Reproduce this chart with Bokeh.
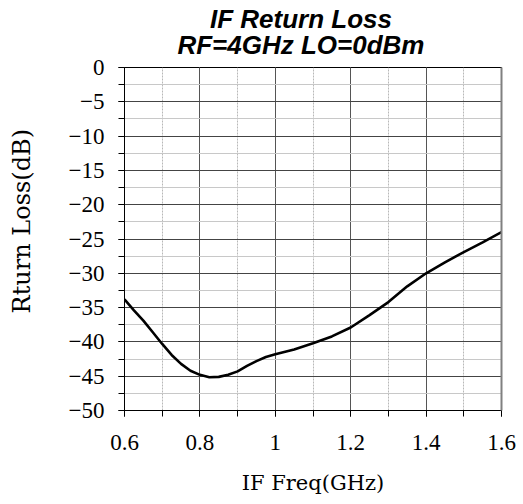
import math

from bokeh.plotting import figure
from bokeh.models import (Range1d, SingleIntervalTicker, FixedTicker, CustomJSTickFormatter,
                          Label, LinearAxis)
from bokeh.embed import file_html
from bokeh.resources import INLINE

# IF return loss sweep (RF = 4 GHz, LO = 0 dBm)
freq_ghz = [0.60, 0.625, 0.65, 0.675, 0.70, 0.725, 0.75, 0.775, 0.80, 0.825, 0.85, 0.875,
            0.90, 0.925, 0.95, 0.975, 1.00, 1.05, 1.10, 1.15, 1.20, 1.25, 1.30, 1.35,
            1.40, 1.45, 1.50, 1.55, 1.60]
return_loss_db = [-33.8, -35.4, -36.9, -38.6, -40.3, -41.9, -43.2, -44.2, -44.8, -45.15, -45.1, -44.8,
                  -44.3, -43.5, -42.8, -42.2, -41.8, -41.1, -40.2, -39.2, -37.9, -36.1, -34.2, -31.9,
                  -30.0, -28.4, -26.9, -25.5, -24.0]

title_lines = ["IF Return Loss", "RF=4GHz LO=0dBm"]
x_label = "IF Freq(GHz)"
y_label = "Rturn Loss(dB)"

x_start, x_end = 0.6, 1.6
y_start, y_end = -50, 0
x_span = x_end - x_start
y_span = y_end - y_start

p = figure(width=523, height=504, output_backend="svg", toolbar_location=None,
           x_range=Range1d(x_start, x_end), y_range=Range1d(y_start, y_end),
           min_border_left=124, min_border_right=22,
           min_border_top=67, min_border_bottom=94)
p.background_fill_color = "white"
p.border_fill_color = "white"
p.outline_line_color = "black"
p.outline_line_width = 1

p.line(freq_ghz, return_loss_db, line_color="black", line_width=2.6, line_join="round")

# axes
p.xaxis.ticker = SingleIntervalTicker(interval=0.2, num_minor_ticks=2)
p.yaxis.ticker = SingleIntervalTicker(interval=5, num_minor_ticks=2)
p.xaxis.formatter = CustomJSTickFormatter(code="return String(Math.round(tick * 10) / 10)")
p.yaxis.formatter = CustomJSTickFormatter(
    code="return tick < 0 ? '\\u2212' + String(Math.abs(tick)) : String(tick)")

for ax in (p.xaxis[0], p.yaxis[0]):
    ax.axis_line_color = "black"
    ax.major_tick_line_color = "black"
    ax.minor_tick_line_color = "black"
    ax.major_tick_in = 0
    ax.major_tick_out = 6
    ax.minor_tick_in = 0
    ax.minor_tick_out = 6
    ax.major_label_text_color = "black"
    ax.major_label_text_font = "Liberation Serif"
    ax.major_label_text_font_size = "23px"

p.xaxis.major_label_standoff = 18
p.yaxis.major_label_standoff = 14

p.xaxis.axis_label = x_label
p.xaxis.axis_label_text_color = "black"
p.xaxis.axis_label_text_font = "DejaVu Serif"
p.xaxis.axis_label_text_font_style = "normal"
p.xaxis.axis_label_text_font_size = "21px"
p.xaxis.axis_label_standoff = 18

# grey right-hand border of the frame
p.add_layout(LinearAxis(ticker=FixedTicker(ticks=[]), axis_line_color="#808080",
                        axis_line_width=2, major_tick_line_color=None,
                        minor_tick_line_color=None), "right")

# grid
p.xgrid.grid_line_color = "#555555"
p.xgrid.grid_line_width = 1
p.xgrid.minor_grid_line_color = "#b8b8b8"
p.xgrid.minor_grid_line_dash = "2 1"
p.ygrid.grid_line_color = "#444444"
p.ygrid.grid_line_width = 1
p.ygrid.minor_grid_line_color = "#c8c8c8"

# vertical axis title, set a little above the frame's middle
p.add_layout(Label(x=x_start - 0.271 * x_span, y=y_end - 0.448 * y_span, text=y_label,
                   angle=math.pi / 2, text_align="center", text_baseline="middle",
                   text_font="DejaVu Serif", text_font_size="24px",
                   text_color="black"), "left")

# two-line bold italic title above the frame, each line centred on its own
title_x = x_start + 0.468 * x_span
for txt, frac in zip(title_lines, (0.141, 0.065)):
    p.add_layout(Label(x=title_x, y=y_end + frac * y_span, text=txt,
                       text_align="center", text_baseline="alphabetic",
                       text_font="Liberation Sans", text_font_style="bold italic",
                       text_font_size="26px", text_color="black"), "above")

open("out.html", "w", encoding="utf-8").write(file_html(p, INLINE))
